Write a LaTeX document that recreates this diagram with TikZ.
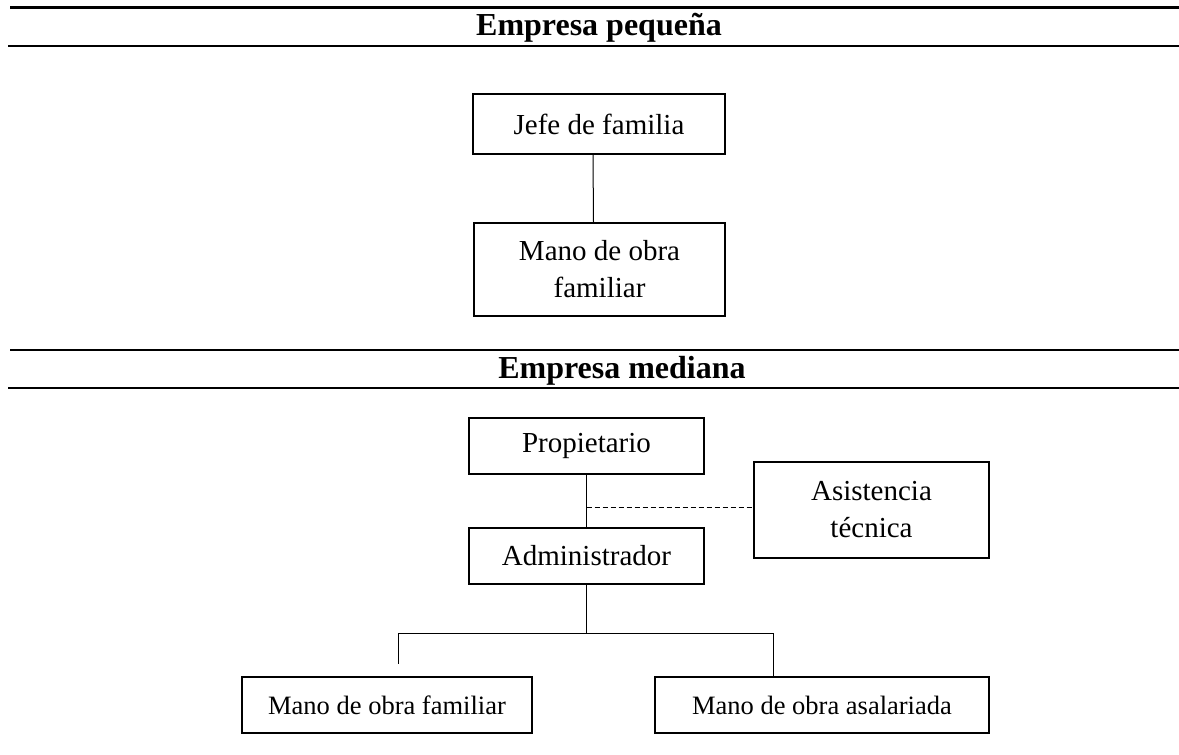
\documentclass[tikz,border=0pt]{standalone}
\usepackage{fontspec}
\setmainfont{Liberation Serif}
\usetikzlibrary{calc}
\begin{document}
\begin{tikzpicture}[x=0.5pt,y=-0.5pt,
    box/.style={draw,line width=0.7pt,inner sep=0pt,align=center,
        font=\fontsize{14.5}{18.5}\selectfont},
    small box/.style={box,minimum height=28pt,font=\fontsize{13.25}{16}\selectfont},
    title/.style={anchor=base,font=\fontsize{16}{19}\selectfont\bfseries},
    rule/.style={line width=1.1pt},
    link/.style={line width=0.5pt}]
    \useasboundingbox (0,0) rectangle (1179,755);
    % rules and headings
    \draw[rule] (10,7.5) -- (1179,7.5);
    \draw[rule] (8,46) -- (1179,46);
    \draw[rule] (10,350) -- (1179,350);
    \draw[rule] (8,388) -- (1179,388);
    \node[title] (pequena) at (599,35) {Empresa pequeña};
    \node[title] (mediana) at (622,378) {Empresa mediana};
    % empresa pequena
    \node[box,minimum width=126pt,minimum height=30pt] (jefe) at (599,124) {Jefe de familia};
    \node[box,minimum width=125.5pt,minimum height=46.5pt] (famA) at (599.5,269.5) {Mano de obra\\familiar};
    \draw[link] ([xshift=-3pt]jefe.south) -- ([xshift=-3pt]famA.north);
    % empresa mediana
    \node[box,minimum width=117.5pt,minimum height=28pt] (prop) at (586.5,446) {Propietario};
    \node[box,minimum width=117.5pt,minimum height=28pt] (admin) at (586.5,556) {Administrador};
    \node[box,minimum width=117.5pt,minimum height=48pt] (asis) at (871.5,510) {Asistencia\\técnica};
    \node[small box,minimum width=145pt] (famB) at (387,705) {Mano de obra familiar};
    \node[small box,minimum width=167pt] (asal) at (822,705) {Mano de obra asalariada};
    \coordinate (forkL) at (398,633);
    \coordinate (forkR) at (773,633);
    \coordinate (stubL) at (398,664);
    \draw[link] (prop.south) -- (admin.north);
    \draw[link,dash pattern=on 2.5pt off 1.5pt] ([yshift=1.5pt]prop.south |- asis.west) -- ([yshift=1.5pt]asis.west);
    \draw[link] (admin.south) -- (admin.south |- forkL);
    \draw[link] (forkL) -- (forkR);
    \draw[link] (forkL) -- (stubL);
    \draw[link] (forkR) -- (forkR |- asal.north);
\end{tikzpicture}
\end{document}
